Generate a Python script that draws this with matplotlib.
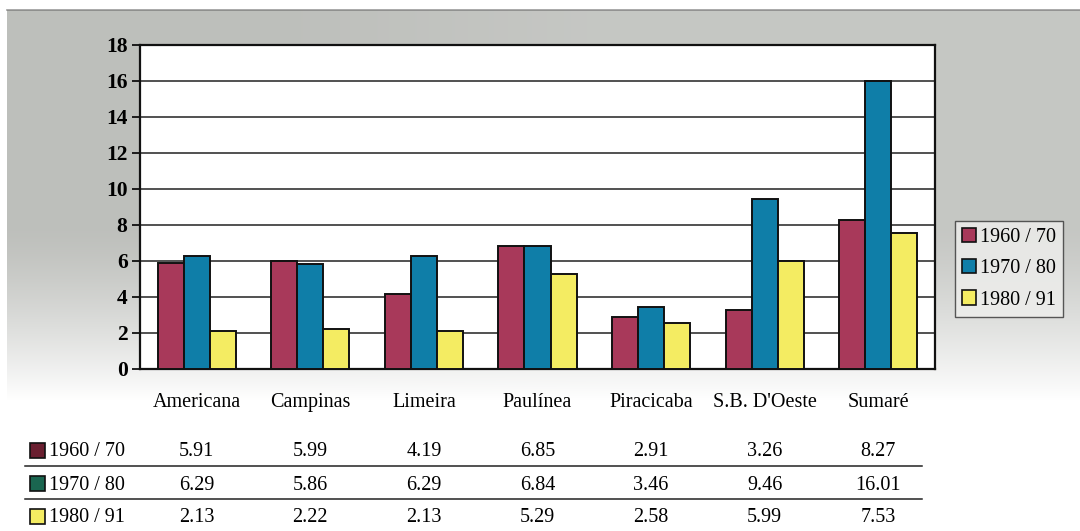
import numpy as np
import matplotlib.pyplot as plt
from matplotlib.patches import Rectangle
from matplotlib.lines import Line2D
from matplotlib.transforms import blended_transform_factory

cidades = ["Americana", "Campinas", "Limeira", "Paulínea", "Piracicaba",
           "S.B. D'Oeste", "Sumaré"]
periodos = ["1960 / 70", "1970 / 80", "1980 / 91"]
taxa_6070 = [5.91, 5.99, 4.19, 6.85, 2.91, 3.26, 8.27]
taxa_7080 = [6.29, 5.86, 6.29, 6.84, 3.46, 9.46, 16.01]
taxa_8091 = [2.13, 2.22, 2.13, 5.29, 2.58, 5.99, 7.53]
y_ticks = [0, 2, 4, 6, 8, 10, 12, 14, 16, 18]

series = [taxa_6070, taxa_7080, taxa_8091]
cores = ["#a8395a", "#0f7ea8", "#f4ec62"]
cores_tabela = ["#6a1f30", "#1a6650", "#f4ec62"]

plt.rcParams["font.family"] = ["Liberation Serif", "DejaVu Serif"]

W, H = 1080, 531
fig = plt.figure(figsize=(W / 100, H / 100), dpi=100)
fig.patch.set_facecolor("white")

# fundo cinza com degradê para branco em baixo
bg = fig.add_axes([0, 0, 1, 1], zorder=-10)
yy = np.arange(H)[:, None]
xx = np.arange(W)[None, :]
fade = np.clip((yy - 230) / 170.0, 0, 1) ** 1.3
fade = fade + (1 - fade) * np.clip((xx - 300) / 2500.0, 0, 0.12)
gray = np.array([0.745, 0.752, 0.737])
img = gray[None, None, :] * (1 - fade[..., None]) + fade[..., None]
img[:10, :, :] = 1.0
img[:, :7, :] = 1.0
bg.imshow(img, aspect="auto", extent=[0, W, H, 0], interpolation="bilinear")
bg.plot([7, W], [9.5, 9.5], color="#707070", lw=1.2, alpha=0.7)
bg.set_xlim(0, W)
bg.set_ylim(H, 0)
bg.axis("off")

def fx(px):
    return px / W

def fy(py):
    return 1 - py / H

ax = fig.add_axes([fx(140), fy(369), fx(935) - fx(140), (369 - 45) / H])
ax.set_facecolor("white")

x = np.arange(len(cidades))
w = 0.229
for i, (vals, cor, nome) in enumerate(zip(series, cores, periodos)):
    ax.bar(x + (i - 1) * w, vals, width=w, color=cor, edgecolor="#111111",
           linewidth=1.4, label=nome, zorder=3)

ax.set_xlim(-0.5, len(cidades) - 0.5)
ax.set_ylim(0, 18)
ax.set_yticks(y_ticks)
ax.yaxis.grid(True, color="#222222", linewidth=1.1)
ax.set_axisbelow(True)
ax.tick_params(axis="y", length=6, width=1.2, labelsize=15.5, pad=3)
for lab in ax.get_yticklabels():
    lab.set_fontweight("bold")
ax.set_xticks(x)
ax.set_xticklabels(cidades, fontsize=14.5)
ax.tick_params(axis="x", length=0, pad=17)
for s in ax.spines.values():
    s.set_linewidth(1.6)
    s.set_color("#111111")

handles = [Rectangle((0, 0), 1, 1, facecolor=c, edgecolor="#111111", lw=1.2)
           for c in cores]
leg = fig.legend(handles, periodos, loc="upper left",
                 bbox_to_anchor=(fx(955), fy(221)), fontsize=14.5,
                 frameon=True, fancybox=False, handlelength=0.7,
                 handleheight=0.7, handletextpad=0.2, borderpad=0.35,
                 labelspacing=0.6, borderaxespad=0)
leg.get_frame().set_edgecolor("#333333")
leg.get_frame().set_linewidth(1.0)
leg.get_frame().set_facecolor("#efefed")

# tabela de valores abaixo do gráfico
trans = blended_transform_factory(ax.transData, fig.transFigure)
linhas_y = [452, 485, 518]
for vals, nome, cor, py in zip(series, periodos, cores_tabela, linhas_y):
    fig.patches.append(Rectangle((fx(30), fy(py + 6)), fx(15), 15 / H,
                                 facecolor=cor, edgecolor="#111111", lw=1.2,
                                 transform=fig.transFigure, figure=fig))
    fig.text(fx(49), fy(py), nome, fontsize=14.5, va="center", ha="left")
    for xi, v in zip(x, vals):
        fig.text(xi, fy(py), f"{v:.2f}", transform=trans, fontsize=14.5,
                 va="center", ha="center")
for py in [466, 499]:
    fig.add_artist(Line2D([fx(25), fx(922)], [fy(py), fy(py)], color="#222222",
                          lw=1.1, transform=fig.transFigure))

fig.savefig("out.png", dpi=100)
